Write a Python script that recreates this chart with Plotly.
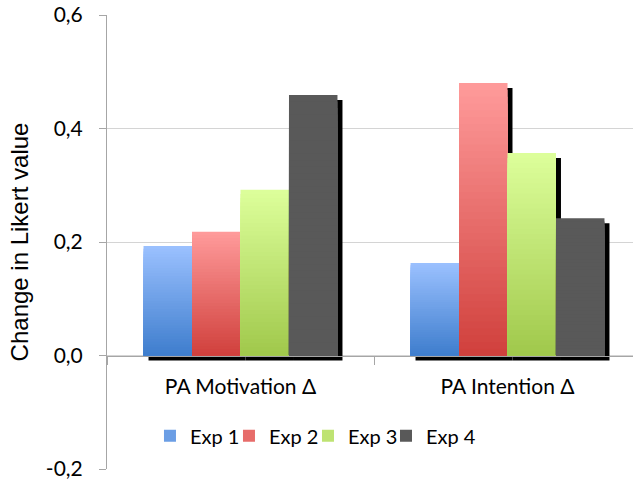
import plotly.graph_objects as go

# ---- data -------------------------------------------------------------
categories = ["PA Motivation Δ", "PA Intention Δ"]
series_names = ["Exp 1", "Exp 2", "Exp 3", "Exp 4"]
exp1 = [0.193, 0.163]
exp2 = [0.218, 0.480]
exp3 = [0.292, 0.357]
exp4 = [0.459, 0.242]
y_tick_values = [-0.2, 0.0, 0.2, 0.4, 0.6]
y_tick_labels = ["-0,2", "0,0", "0,2", "0,4", "0,6"]

series_values = [exp1, exp2, exp3, exp4]

# gradient colours per series: (top, bottom)
grad_top = [(155, 193, 255), (255, 155, 155), (221, 255, 155), (89, 89, 89)]
grad_bottom = [(62, 125, 205), (208, 64, 60), (160, 200, 75), (89, 89, 89)]

# left edge (paper fraction) of each series' legend entry
legend_x = [0.0817, 0.2319, 0.3821, 0.5304]

FONT = "Lato"
TITLE_FONT = "Liberation Sans"
N_STEPS = 40           # gradient resolution
BAR_W = 0.1816         # width of one bar in category units
SHADOW_DX = 0.0187     # shadow offset to the right (category units)
SHADOW_DY = 0.0088     # shadow offset downwards (value units)

x_pos = list(range(len(categories)))


def lerp(c0, c1, t):
    return "rgb(%d,%d,%d)" % tuple(round(a + (b - a) * t) for a, b in zip(c0, c1))


def legend_id(j):
    return "legend" if j == 0 else "legend%d" % (j + 1)


fig = go.Figure()

# drop shadows behind the bars
for j, vals in enumerate(series_values):
    fig.add_trace(go.Bar(
        x=x_pos, y=vals, base=[-SHADOW_DY] * len(vals),
        width=BAR_W, offset=-2 * BAR_W + j * BAR_W + SHADOW_DX,
        marker=dict(color="black", line=dict(width=0)),
        showlegend=False, hoverinfo="skip",
    ))

# gradient bars: nested bars from tallest (lightest) to shortest (darkest)
for j, (name, vals) in enumerate(zip(series_names, series_values)):
    for k in range(N_STEPS):
        frac = (N_STEPS - k) / N_STEPS
        t_col = (N_STEPS - k - 0.5) / N_STEPS
        fig.add_trace(go.Bar(
            x=x_pos, y=[v * frac for v in vals],
            width=BAR_W, offset=-2 * BAR_W + j * BAR_W,
            marker=dict(color=lerp(grad_bottom[j], grad_top[j], t_col), line=dict(width=0)),
            name=name, legendgroup=name, legend=legend_id(j),
            showlegend=(k == N_STEPS // 2),
            hoverinfo="skip" if k else None,
        ))

fig.update_layout(
    width=633, height=482,
    margin=dict(l=107, r=0, t=15, b=13),
    paper_bgcolor="white", plot_bgcolor="white",
    barmode="overlay",
    separators=",.",
    font=dict(family=FONT, size=21, color="#000"),
)

for j, lx in enumerate(legend_x):
    fig.update_layout({legend_id(j): dict(
        orientation="h", x=lx, y=0.073, xanchor="left", yanchor="middle",
        font=dict(family=FONT, size=20, color="#000"),
        bgcolor="rgba(0,0,0,0)",
    )})

fig.update_yaxes(
    range=[-0.2, 0.6], tickmode="array",
    tickvals=y_tick_values, ticktext=y_tick_labels,
    showgrid=True, gridcolor="#d4d4d4", gridwidth=1,
    zeroline=False,
    showline=True, linecolor="#a6a6a6", linewidth=1,
    ticks="outside", ticklen=7, tickcolor="#a6a6a6",
    ticklabelstandoff=12,
    tickfont=dict(family=FONT, size=21, color="#000"),
    title=dict(text="Change in Likert value", standoff=10,
               font=dict(family=TITLE_FONT, size=24, color="#000")),
)

fig.update_xaxes(
    range=[-0.5, -0.5 + 526 / 267],
    tickmode="array", tickvals=x_pos, ticktext=categories,
    ticks="", showgrid=False, zeroline=False,
    showline=True, linecolor="#a6a6a6", linewidth=1,
    anchor="free", position=0.25,
    minor=dict(ticks="outside", ticklen=8, tickcolor="#a6a6a6",
               tickmode="linear", tick0=0.5, dtick=1, showgrid=False),
    ticklabelstandoff=12,
    tickfont=dict(family=FONT, size=21, color="#000"),
)

fig.write_html("out.html")
